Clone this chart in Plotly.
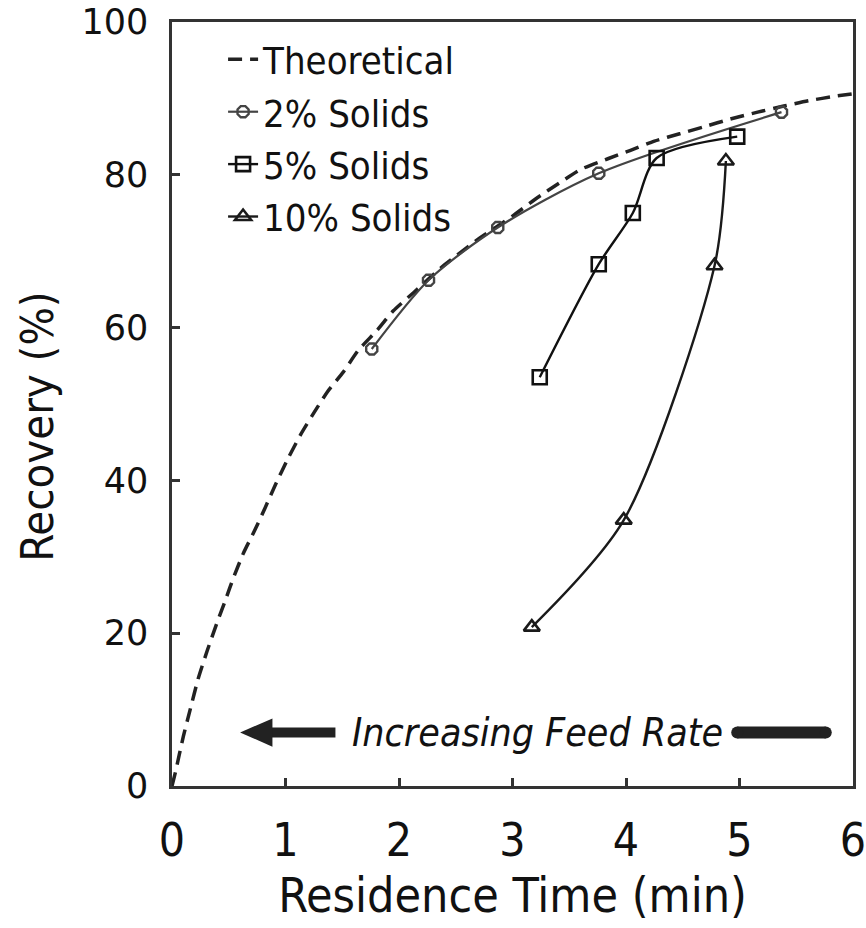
import plotly.graph_objects as go

# Theoretical recovery curve
theo_t = [0, 0.03, 0.10, 0.16, 0.23, 0.31, 0.40, 0.47, 0.54, 0.63, 0.73, 0.82, 0.91,
          1.02, 1.13, 1.24, 1.37, 1.51, 1.64, 1.81, 1.95, 2.13, 2.40, 2.70, 3.00,
          3.20, 3.42, 3.60, 3.84, 4.04, 4.25, 4.48, 4.69, 4.92, 5.16, 5.39, 5.61,
          5.85, 6.00]
theo_r = [0, 1.8, 6.5, 10.0, 14.0, 17.7, 21.5, 24.3, 27.2, 30.5, 33.5, 36.4, 39.4,
          42.8, 45.9, 48.6, 51.6, 54.2, 57.0, 59.7, 62.2, 64.6, 68.2, 71.6, 74.6,
          76.8, 79.0, 80.7, 82.1, 83.2, 84.4, 85.4, 86.3, 87.3, 88.2, 89.0, 89.7,
          90.3, 90.6]

# Measured data
t_2 = [1.76, 2.26, 2.87, 3.76, 5.37]
r_2 = [57.2, 66.2, 73.1, 80.2, 88.2]

t_5 = [3.24, 3.76, 4.06, 4.27, 4.98]
r_5 = [53.5, 68.3, 75.0, 82.2, 85.0]

t_10 = [3.17, 3.98, 4.78, 4.88]
r_10 = [20.8, 34.8, 68.1, 81.8]

x_ticks = [0, 1, 2, 3, 4, 5, 6]
y_ticks = [0, 20, 40, 60, 80, 100]

COND = "DejaVu Sans Condensed, DejaVu Sans, sans-serif"
AX = "#333333"

fig = go.Figure()

fig.add_trace(go.Scatter(
    x=theo_t, y=theo_r, mode="lines", name="Theoretical",
    line=dict(color="#222222", width=3.5, dash="14px,8px", shape="spline", smoothing=0.6),
    legendgroup="a",
))
fig.add_trace(go.Scatter(
    x=t_2, y=r_2, mode="lines+markers", name="2% Solids",
    line=dict(color="#444444", width=2.2, shape="spline", smoothing=0.8),
    marker=dict(symbol="octagon-open", size=12, color="#444444", line=dict(width=2.4)),
    legendgroup="b",
))
fig.add_trace(go.Scatter(
    x=t_5, y=r_5, mode="lines+markers", name="5% Solids",
    line=dict(color="#111111", width=2.4, shape="spline", smoothing=0.8),
    marker=dict(symbol="square-open", size=14, color="#111111", line=dict(width=2.6)),
    legendgroup="c",
))
fig.add_trace(go.Scatter(
    x=t_10, y=r_10, mode="lines+markers", name="10% Solids",
    line=dict(color="#1a1a1a", width=2.4, shape="spline", smoothing=0.8),
    marker=dict(symbol="triangle-up-open", size=14, color="#1a1a1a", line=dict(width=2.6)),
    legendgroup="d",
))

# "Increasing Feed Rate" indicator: arrow shaft on the left, rounded bar on the right
arrow_y = 7.0
fig.add_trace(go.Scatter(
    x=[0.85, 1.44], y=[arrow_y, arrow_y], mode="lines",
    line=dict(color="#222222", width=10), showlegend=False, hoverinfo="skip",
))
fig.add_trace(go.Scatter(
    x=[4.98, 5.76], y=[arrow_y, arrow_y], mode="lines+markers",
    line=dict(color="#222222", width=12),
    marker=dict(symbol="circle", size=12, color="#222222"),
    showlegend=False, hoverinfo="skip",
))
fig.add_shape(
    type="path",
    path=f"M 0.60 {arrow_y} L 0.885 {arrow_y + 1.85} L 0.885 {arrow_y - 1.85} Z",
    xref="x", yref="y", fillcolor="#222222", line=dict(width=0),
)
fig.add_annotation(
    x=3.22, y=arrow_y, xref="x", yref="y", text="<i>Increasing Feed Rate</i>",
    showarrow=False, font=dict(family=COND, size=39, color="#111111"),
)

# y-axis title, placed slightly below the plot's vertical centre
fig.add_annotation(
    x=-0.197, y=0.47, xref="paper", yref="paper", text="Recovery (%)",
    textangle=-90, showarrow=False, xanchor="center", yanchor="middle",
    font=dict(family=COND, size=45, color="#111111"),
)

fig.update_layout(
    width=866, height=928,
    margin=dict(l=172, r=13, t=22, b=142),
    paper_bgcolor="white", plot_bgcolor="white",
    showlegend=True,
    legend=dict(
        x=0.075, y=0.992, xanchor="left", yanchor="top",
        font=dict(family=COND, size=38, color="#111111"),
        bgcolor="rgba(0,0,0,0)", tracegroupgap=0, traceorder="grouped",
    ),
    xaxis=dict(
        range=[0, 6], tickvals=x_ticks, ticktext=[str(v) for v in x_ticks],
        showgrid=False, zeroline=False, automargin=False,
        showline=True, linecolor=AX, linewidth=2.5, mirror=True,
        ticks="inside", ticklen=8, tickwidth=2.5, tickcolor=AX,
        tickfont=dict(family=COND, size=46, color="#111111"),
        ticklabelstandoff=12, ticklabeloverflow="allow",
        title=dict(text="Residence Time (min)", font=dict(family=COND, size=48, color="#111111"),
                   standoff=13),
    ),
    yaxis=dict(
        range=[0, 100], tickvals=y_ticks, ticktext=[str(v) for v in y_ticks],
        showgrid=False, zeroline=False, automargin=False,
        showline=True, linecolor=AX, linewidth=2.5, mirror=True,
        ticks="inside", ticklen=8, tickwidth=2.5, tickcolor=AX,
        tickfont=dict(family="DejaVu Sans, Verdana, sans-serif", size=35, color="#111111"),
        ticklabelstandoff=14, ticklabeloverflow="allow",
    ),
)

fig.write_html("out.html")
